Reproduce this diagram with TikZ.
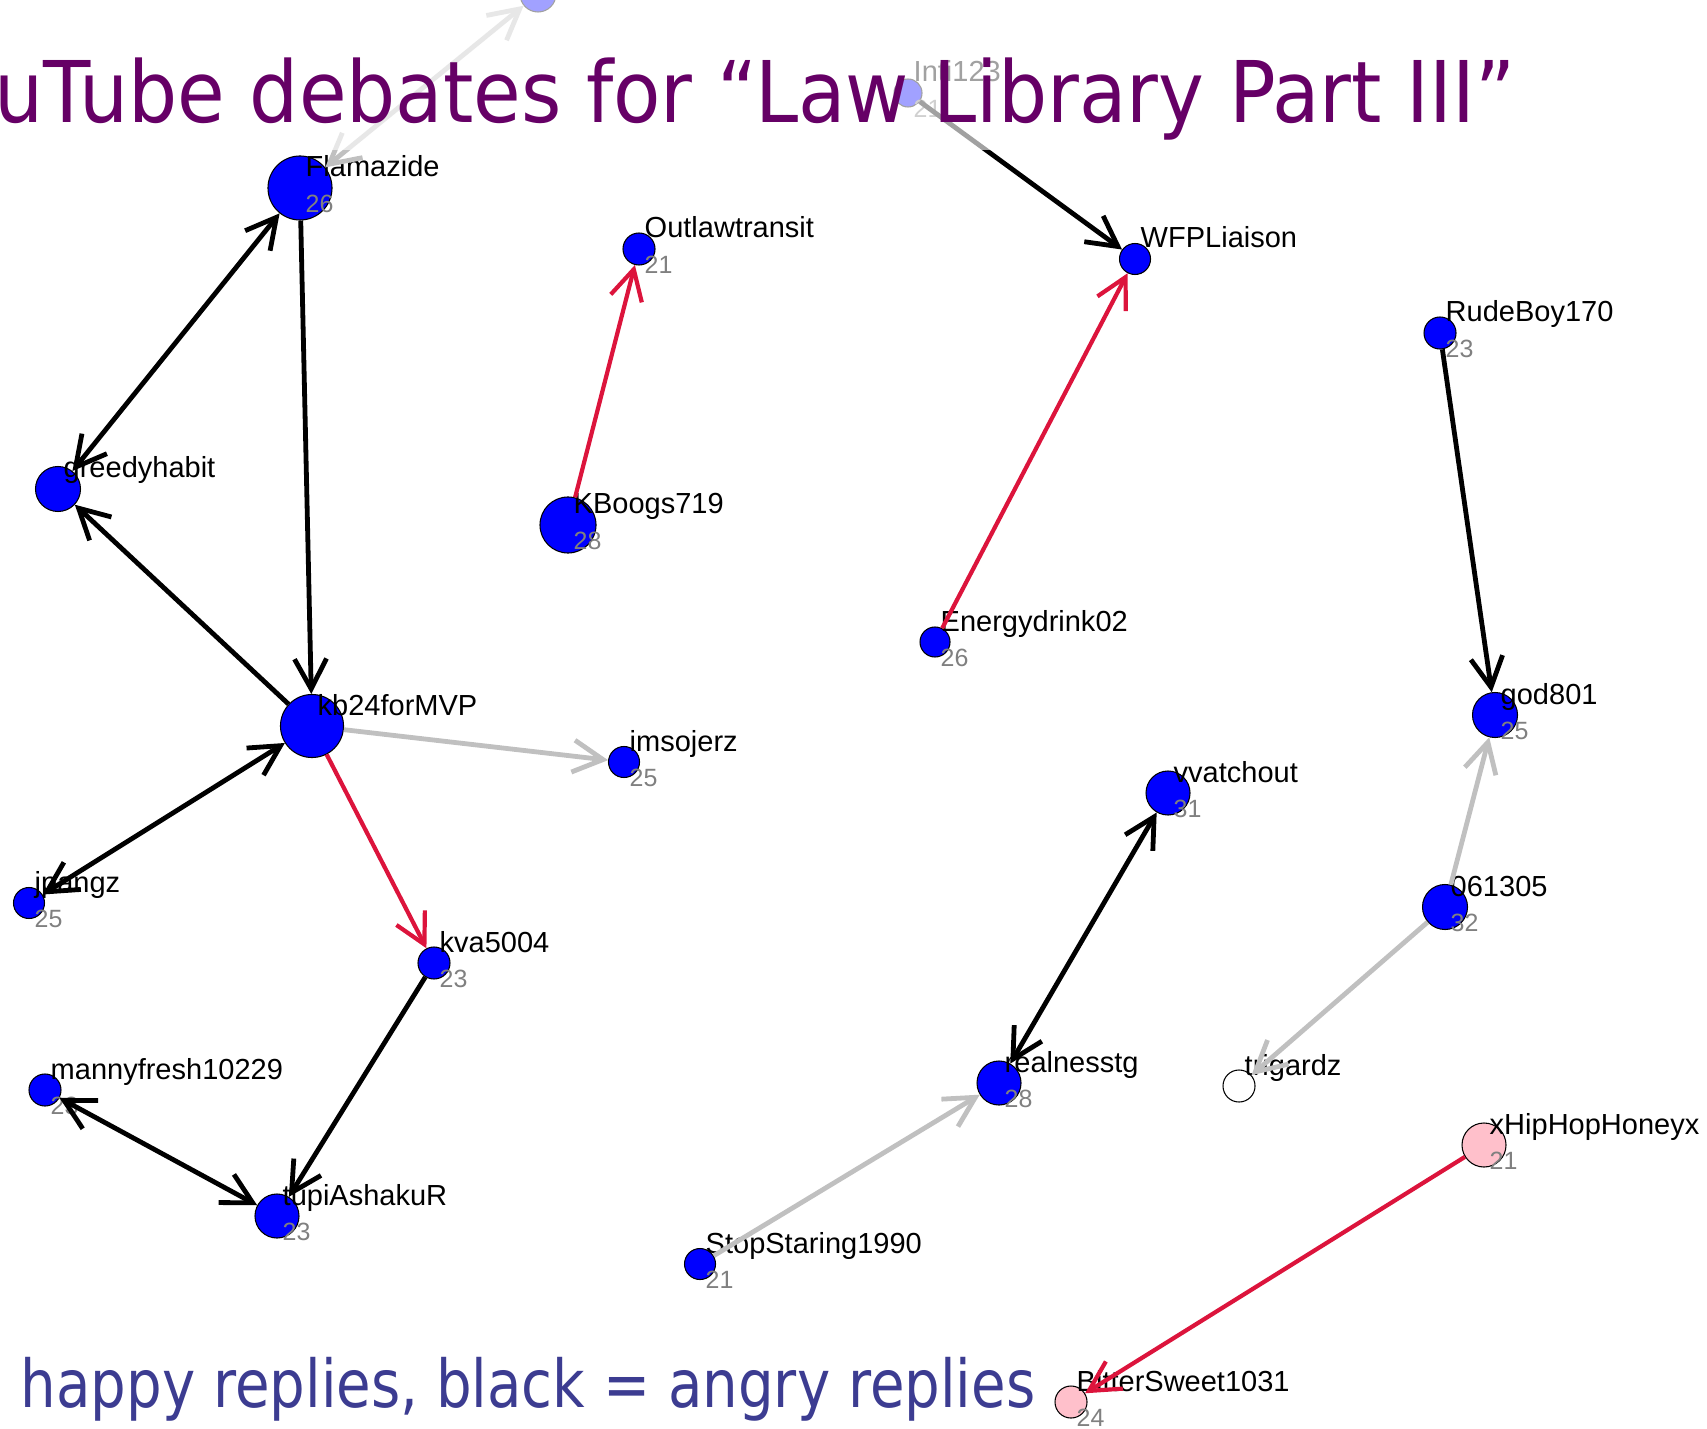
\documentclass[tikz,border=0pt]{standalone}
\usepackage{fontspec}
\setmainfont{Liberation Sans}
\newfontfamily\titlefont[FakeStretch=0.91]{DejaVu Sans}
\newfontfamily\notefont[FakeStretch=0.85]{DejaVu Sans}
\usetikzlibrary{arrows.meta}
\definecolor{vblue}{RGB}{0,0,255}
\definecolor{vpink}{RGB}{255,192,203}
\definecolor{ered}{RGB}{220,20,60}
\definecolor{egray}{RGB}{192,192,192}
\definecolor{ttl}{RGB}{102,0,102}
\definecolor{notecol}{RGB}{60,60,145}
\definecolor{numgray}{RGB}{128,128,128}
\tikzset{vtip/.tip={Straight Barb[length=0.3cm,width=0.32cm]}}
\newcommand\vlabel[3]{%
  \node[lbl] (#1-l) at ([shift={(5,-11)}]#1.center) {#2};%
  \if\relax\detokenize{#3}\relax\else
  \node[num] (#1-n) at ([shift={(5,24.5)}]#1.center) {#3};\fi}
\begin{document}
\begin{tikzpicture}[x=0.01cm,y=-0.01cm,
  vx/.style={circle,draw=black,line width=0.3pt,inner sep=0pt,fill=vblue},
  lbl/.style={anchor=base west,inner sep=0pt,font=\fontsize{8.25}{9}\selectfont},
  num/.style={anchor=base west,inner sep=0pt,text=numgray,font=\fontsize{7.1}{8}\selectfont},
  onehead/.style={line width=0.048cm,-vtip},
  twohead/.style={line width=0.048cm,vtip-vtip},
  angry/.style={draw=black},
  happy/.style={draw=ered,line width=0.042cm},
  neutral/.style={draw=egray}]
\useasboundingbox (0,0) rectangle (1707,1428);
\clip (0,0) rectangle (1707,1428);
% vertices
\node[vx,minimum size=0.36cm] (top) at (538,-6) {};
\node[vx,minimum size=0.28cm] (inti) at (908,93) {};
\node[vx,minimum size=0.64cm] (fla) at (300,188) {};
\node[vx,minimum size=0.45cm] (gre) at (58,489) {};
\node[vx,minimum size=0.32cm] (out) at (639,249) {};
\node[vx,minimum size=0.56cm] (kbo) at (568,525) {};
\node[vx,minimum size=0.31cm] (wfp) at (1135,259) {};
\node[vx,minimum size=0.30cm] (ene) at (935,642) {};
\node[vx,minimum size=0.32cm] (rud) at (1440,333) {};
\node[vx,minimum size=0.45cm] (god) at (1495,715) {};
\node[vx,minimum size=0.63cm] (kb) at (312,726) {};
\node[vx,minimum size=0.31cm] (ims) at (624,762) {};
\node[vx,minimum size=0.31cm] (jpa) at (29,903) {};
\node[vx,minimum size=0.32cm] (kva) at (434,963) {};
\node[vx,minimum size=0.32cm] (man) at (45,1090) {};
\node[vx,minimum size=0.44cm] (tup) at (277,1216) {};
\node[vx,minimum size=0.31cm] (sto) at (700,1264) {};
\node[vx,minimum size=0.44cm] (vva) at (1168,793) {};
\node[vx,minimum size=0.44cm] (rea) at (999,1083) {};
\node[vx,minimum size=0.32cm,fill=white] (tri) at (1239,1086) {};
\node[vx,minimum size=0.45cm] (z06) at (1445,907) {};
\node[vx,minimum size=0.44cm,fill=vpink] (xhi) at (1484,1145) {};
\node[vx,minimum size=0.32cm,fill=vpink] (bit) at (1071,1402) {};
% labels
\vlabel{inti}{Inti123}{21}
\vlabel{fla}{Flamazide}{26}
\vlabel{gre}{greedyhabit}{}
\vlabel{out}{Outlawtransit}{21}
\vlabel{kbo}{KBoogs719}{28}
\vlabel{wfp}{WFPLiaison}{}
\vlabel{ene}{Energydrink02}{26}
\vlabel{rud}{RudeBoy170}{23}
\vlabel{god}{god801}{25}
\vlabel{kb}{kb24forMVP}{}
\vlabel{ims}{imsojerz}{25}
\vlabel{jpa}{jpangz}{25}
\vlabel{kva}{kva5004}{23}
\vlabel{man}{mannyfresh10229}{23}
\vlabel{tup}{tupiAshakuR}{23}
\vlabel{sto}{StopStaring1990}{21}
\vlabel{vva}{vvatchout}{31}
\vlabel{rea}{realnesstg}{28}
\vlabel{tri}{trigardz}{}
\vlabel{z06}{061305}{32}
\vlabel{xhi}{xHipHopHoneyx}{21}
\vlabel{bit}{BitterSweet1031}{24}
% replies
\draw[twohead,angry] (fla) -- (gre);
\draw[onehead,angry] (fla) -- (kb);
\draw[onehead,angry] (kb) -- (gre);
\draw[twohead,neutral] (top) -- (fla);
\draw[onehead,happy] (kbo) -- (out);
\draw[onehead,angry] (inti) -- (wfp);
\draw[onehead,happy] (ene) -- (wfp);
\draw[onehead,angry] (rud) -- (god);
\draw[onehead,neutral] (kb) -- (ims);
\draw[twohead,angry] (kb) -- (jpa);
\draw[onehead,happy] (kb) -- (kva);
\draw[onehead,angry] (kva) -- (tup);
\draw[twohead,angry] (man) -- (tup);
\draw[twohead,angry] (vva) -- (rea);
\draw[onehead,neutral] (z06) -- (god);
\draw[onehead,neutral] (z06) -- (tri);
\draw[onehead,neutral] (sto) -- (rea);
\draw[onehead,happy] (xhi) -- (bit);
% title band
\fill[white,opacity=0.63] (0,0) rectangle (1707,150);
\node[anchor=base west,inner sep=0pt,text=ttl,font=\titlefont\fontsize{24.2}{29}\selectfont] (title) at (-6,123) {uTube debates for “Law Library Part III”};
\node[anchor=base west,inner sep=0pt,text=notecol,font=\notefont\fontsize{18.8}{22}\selectfont] (legend) at (20,1407) {happy replies, black = angry replies};
\end{tikzpicture}
\end{document}
